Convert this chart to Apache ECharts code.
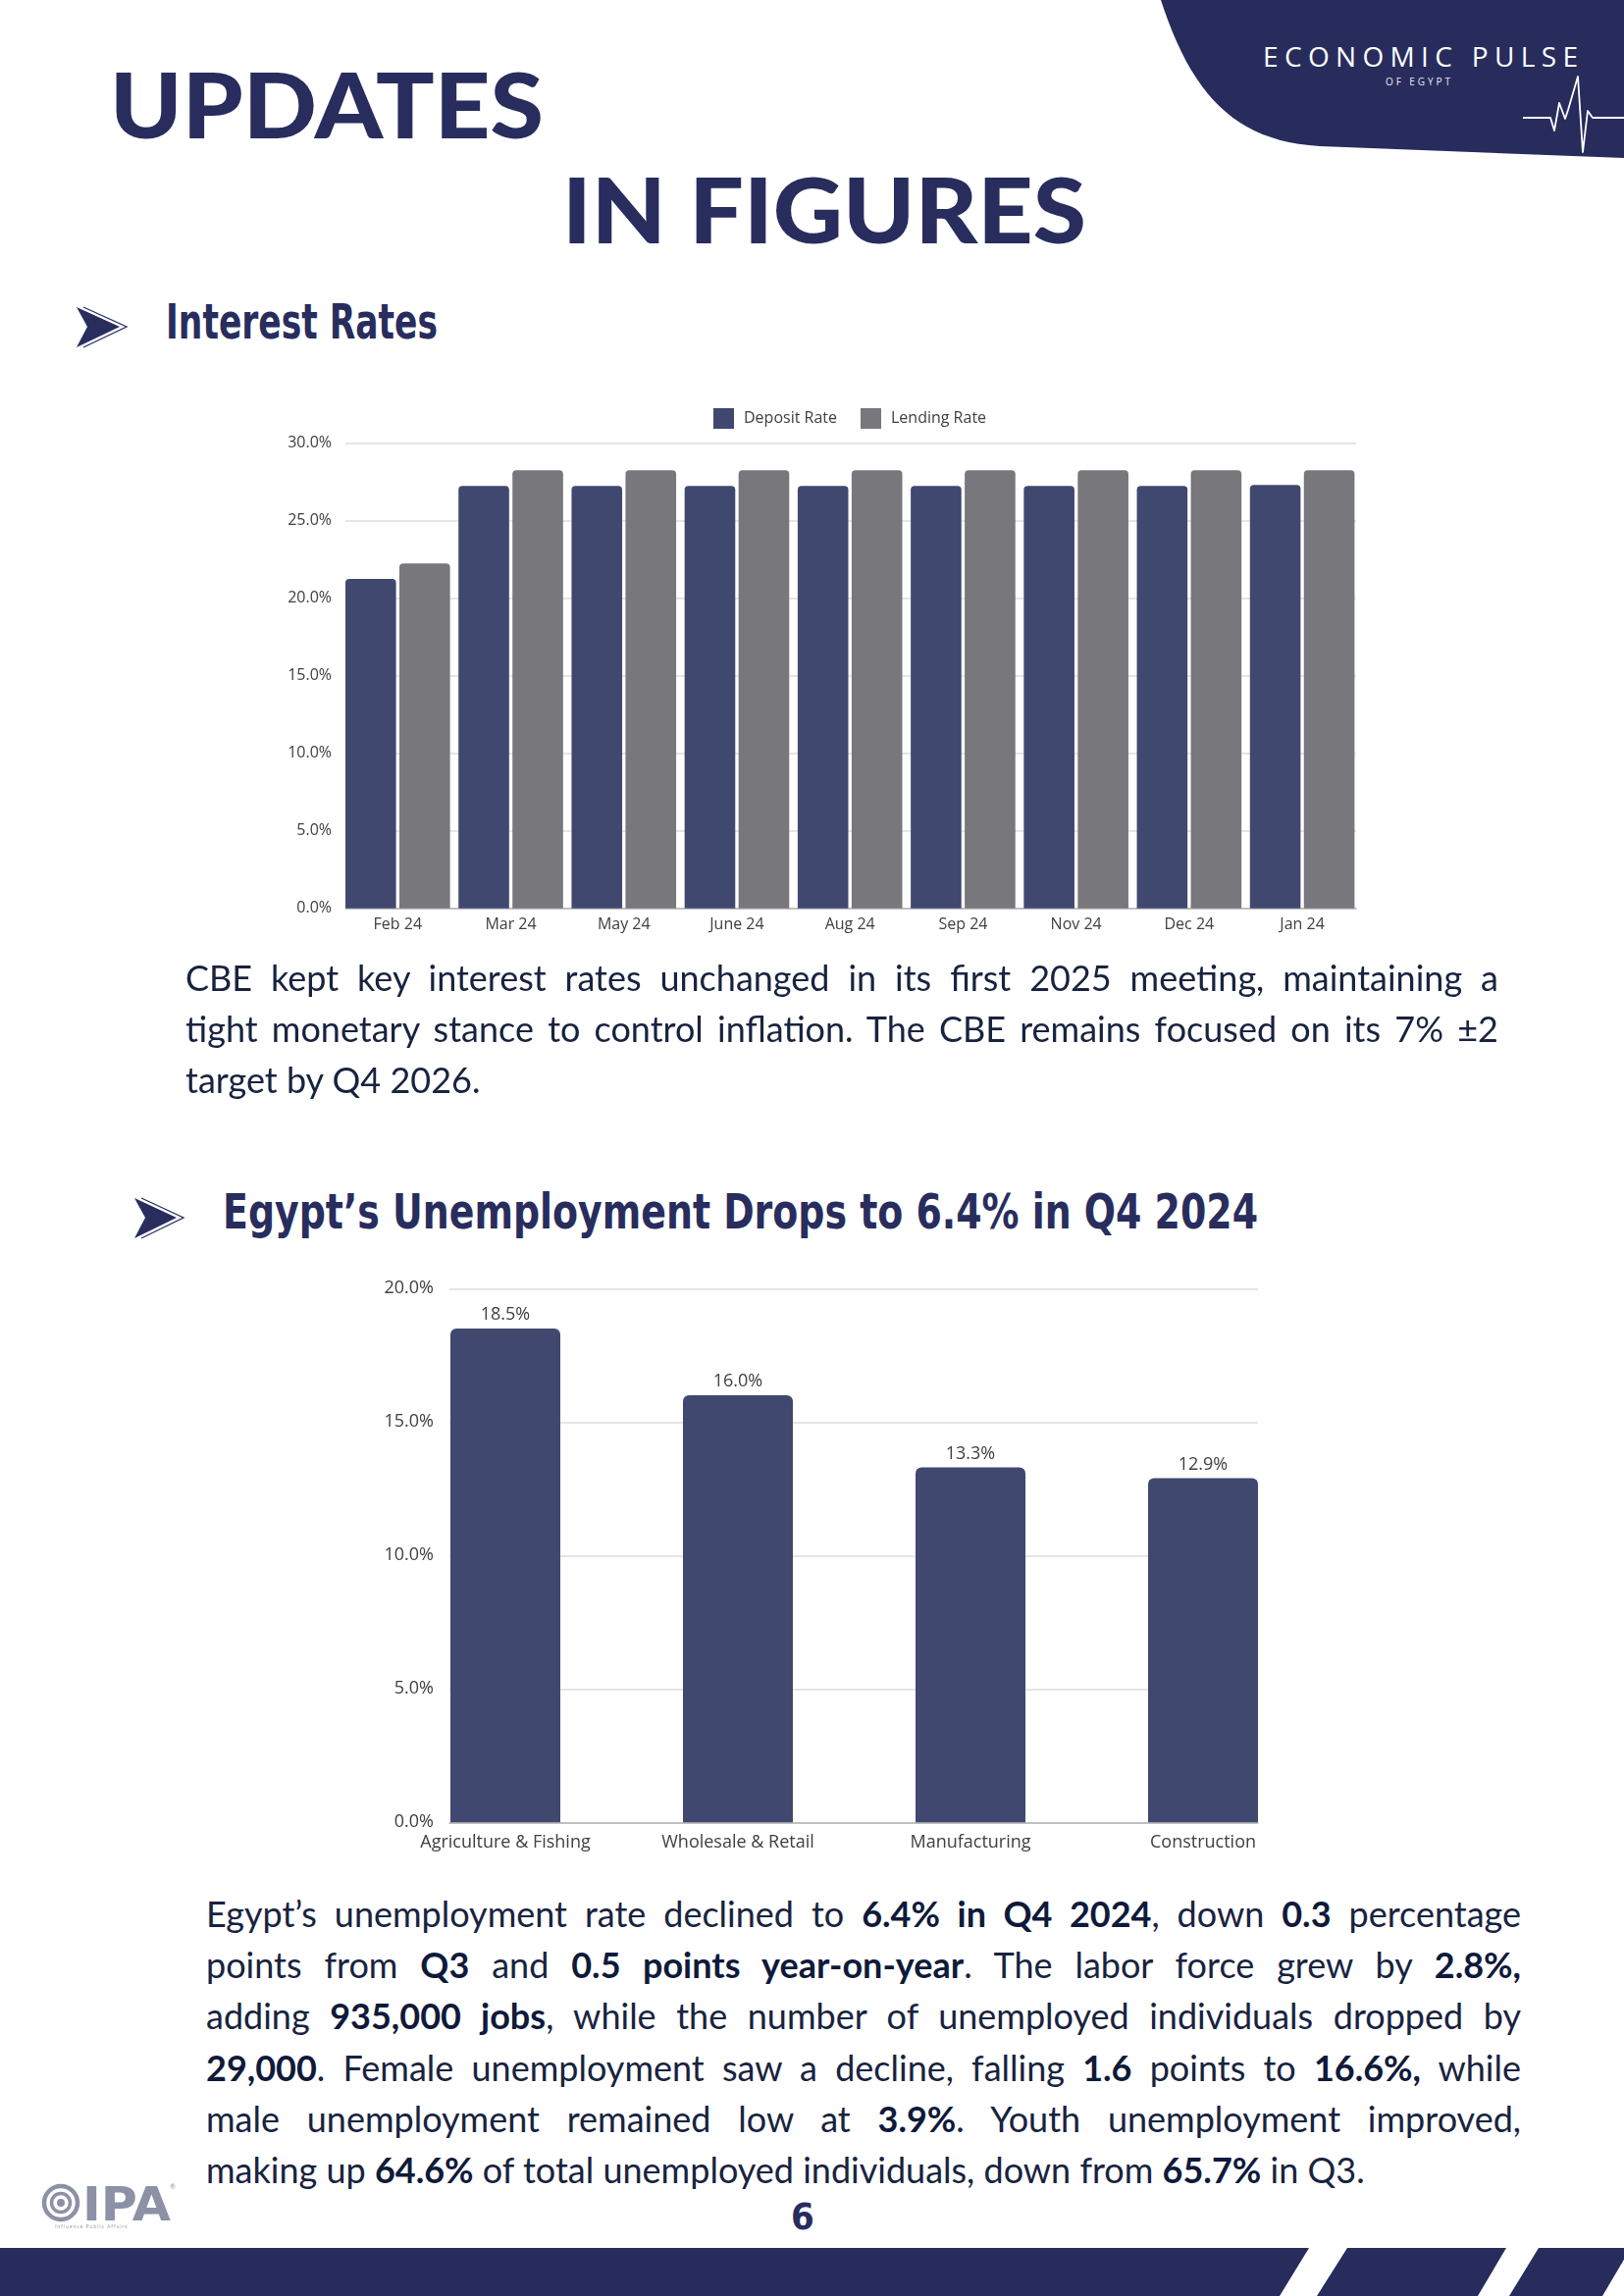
<!DOCTYPE html>
<html><head><meta charset="utf-8">
<script src="https://cdn.jsdelivr.net/npm/echarts@6/dist/echarts.min.js"></script>
<style>
html,body{margin:0;padding:0;background:#fff;}
#page{position:relative;width:1655px;height:2340px;overflow:hidden;background:#fff;font-family:Lato,'Open Sans',sans-serif;}
.abs{position:absolute;white-space:nowrap;}
.fitx{transform-origin:0 0;}
.big{font-family:Lato,sans-serif;font-weight:900;color:#282d5e;font-size:92px;line-height:1;}
.h2{font-family:'Liberation Sans Narrow','DejaVu Sans Condensed',sans-serif;font-weight:bold;color:#282d5e;line-height:1;}
.para{position:absolute;color:#18233f;font-family:Lato,sans-serif;font-size:36px;}
.para .ln{white-space:nowrap;text-align:justify;text-align-last:justify;}
.para .ln.last{text-align-last:left;}
.para .ln.measure{text-align-last:left;}
.para b{font-weight:700;color:#0f1a3a;}
.chart{position:absolute;left:0;width:1655px;}
</style>
</head>
<body>
<div id="page">
  <svg class="abs" style="left:0;top:0" width="1655" height="2340" viewBox="0 0 1655 2340">
    <!-- top-right banner -->
    <path d="M1183,0 C1213,92 1255,144 1345,149 L1655,161 L1655,0 Z" fill="#272c5c"/>
    <polyline points="1552,120 1580,120 1584,133 1589,105 1595,121 1598,112 1608,78 1613,155 1618,113 1623,120 1655,120" fill="none" stroke="#ffffff" stroke-width="1.8" stroke-linejoin="round"/>
    <!-- arrow icons -->
    <polygon points="78,313 122,333 78,354 89,333" fill="#282d5e"/>
    <polyline points="85,313 129,333 85,354" fill="none" stroke="#282d5e" stroke-width="1.3"/>
    <polygon points="137,1221 180,1241 137,1262 148,1241" fill="#282d5e"/>
    <polyline points="144,1221 187,1241 144,1262" fill="none" stroke="#282d5e" stroke-width="1.3"/>
    <!-- IPA logo icon -->
    <circle cx="62" cy="2245" r="17" fill="none" stroke="#8d91a6" stroke-width="4.5"/>
    <circle cx="62" cy="2245" r="9.5" fill="none" stroke="#8d91a6" stroke-width="3.5"/>
    <circle cx="62" cy="2245" r="4" fill="#8d91a6"/>
    <!-- footer -->
    <polygon points="0,2291 1334,2291 1304,2340 0,2340" fill="#272c5c"/>
    <polygon points="1373,2291 1535,2291 1506,2340 1342,2340" fill="#272c5c"/>
    <polygon points="1568,2291 1662,2291 1633,2340 1538,2340" fill="#272c5c"/>
  </svg>

  <div class="abs" data-w="321" data-mode="ls" style="left:1287px;top:43px;font-family:'Open Sans',sans-serif;font-weight:400;font-size:28px;line-height:1;color:#fff;">ECONOMIC PULSE</div>
  <div class="abs" data-w="66" data-mode="ls" style="left:1412px;top:78px;font-family:'Open Sans',sans-serif;font-size:10px;line-height:1;color:#e8e9f0;">OF EGYPT</div>

  <div class="abs big fitx" data-w="442" style="left:112px;top:60px;">UPDATES</div>
  <div class="abs big fitx" data-w="534" style="left:573px;top:167px;">IN FIGURES</div>

  <div class="abs h2 fitx" data-w="277" style="left:169px;top:303px;font-size:50px;">Interest Rates</div>
  <div class="abs h2 fitx" data-w="1055" style="left:227px;top:1211px;font-size:49px;">Egypt’s Unemployment Drops to 6.4% in Q4 2024</div>

  <div id="chart1" class="chart" style="top:380px;height:600px;"></div>

  <div class="para" id="p1" style="left:189px;top:970px;width:1338px;line-height:52.2px;">
    <div class="ln"><span>CBE kept key interest rates unchanged in its first 2025 meeting, maintaining a</span></div>
    <div class="ln"><span>tight monetary stance to control inflation. The CBE remains focused on its 7% ±2</span></div>
    <div class="ln last"><span>target by Q4 2026.</span></div>
  </div>

  <div id="chart2" class="chart" style="top:1280px;height:640px;"></div>

  <div class="para" id="p2" style="left:210px;top:1924px;width:1340px;line-height:52.2px;">
    <div class="ln"><span>Egypt’s unemployment rate declined to <b>6.4% in Q4 2024</b>, down <b>0.3</b> percentage</span></div>
    <div class="ln"><span>points from <b>Q3</b> and <b>0.5 points year-on-year</b>. The labor force grew by <b>2.8%,</b></span></div>
    <div class="ln"><span>adding <b>935,000 jobs</b>, while the number of unemployed individuals dropped by</span></div>
    <div class="ln"><span><b>29,000</b>. Female unemployment saw a decline, falling <b>1.6</b> points to <b>16.6%,</b> while</span></div>
    <div class="ln"><span>male unemployment remained low at <b>3.9%</b>. Youth unemployment improved,</span></div>
    <div class="ln last"><span>making up <b>64.6%</b> of total unemployed individuals, down from <b>65.7%</b> in Q3.</span></div>
  </div>

  <div class="abs h2" style="left:768px;top:2240px;width:100px;text-align:center;font-size:38px;">6</div>

  <div class="abs h2 fitx" data-w="90" style="left:84px;top:2222px;font-size:48px;color:#8d91a6;">IPA</div>
  <div class="abs" style="left:173px;top:2224px;font-size:7px;color:#8d91a6;">®</div>
  <div class="abs" style="left:56px;top:2266px;font-size:5px;letter-spacing:1px;color:#9a9daf;">Influence Public Affairs</div>
</div>

<script>
// ---------- data ----------
const rateMonths = ['Feb 24', 'Mar 24', 'May 24', 'June 24', 'Aug 24', 'Sep 24', 'Nov 24', 'Dec 24', 'Jan 24'];
const depositRate = [21.25, 27.25, 27.25, 27.25, 27.25, 27.25, 27.25, 27.25, 27.3];
const lendingRate = [22.25, 28.25, 28.25, 28.25, 28.25, 28.25, 28.25, 28.25, 28.25];
const rateAxisTicks = [0, 5, 10, 15, 20, 25, 30];

const sectors = ['Agriculture & Fishing', 'Wholesale & Retail', 'Manufacturing', 'Construction'];
const sectorUnemployment = [18.5, 16.0, 13.3, 12.9];
const unempAxisTicks = [0, 5, 10, 15, 20];

// ---------- charts ----------
const FONT = "'Open Sans', sans-serif";
const TXT = '#404040';
const pct = v => v.toFixed(1) + '%';

const c1 = echarts.init(document.getElementById('chart1'), null, {renderer: 'canvas'});
c1.setOption({
  animation: false,
  textStyle: {fontFamily: FONT},
  legend: {
    data: ['Deposit Rate', 'Lending Rate'],
    left: 722, top: 31, icon: 'rect', itemWidth: 21, itemHeight: 21, itemGap: 24,
    textStyle: {fontFamily: FONT, fontSize: 16, color: TXT, padding: [0, 0, 0, 5]}
  },
  grid: [
    {left: 352, width: 1030, top: 71.7, height: 474},
    {left: 347.7, width: 1037, top: 71.7, height: 474}
  ],
  xAxis: [
    {gridIndex: 0, type: 'category', data: rateMonths, axisLine: {show: true, lineStyle: {color: '#b4b4b4', width: 1.5}},
     axisTick: {show: false}, axisLabel: {show: false}},
    {gridIndex: 1, type: 'category', data: rateMonths, axisLine: {show: false}, axisTick: {show: false},
     axisLabel: {fontFamily: FONT, fontSize: 16, color: TXT, margin: 9}}
  ],
  yAxis: [
    {gridIndex: 0, type: 'value', min: rateAxisTicks[0], max: rateAxisTicks[rateAxisTicks.length - 1],
     interval: rateAxisTicks[1] - rateAxisTicks[0],
     axisLabel: {formatter: pct, fontFamily: FONT, fontSize: 16, color: TXT, margin: 14},
     axisLine: {show: false}, axisTick: {show: false},
     splitLine: {lineStyle: {color: '#dcdcdc', width: 1.5}}},
    {gridIndex: 1, type: 'value', min: rateAxisTicks[0], max: rateAxisTicks[rateAxisTicks.length - 1], show: false,
     splitLine: {show: false}}
  ],
  series: [
    {name: 'Deposit Rate', type: 'bar', xAxisIndex: 1, yAxisIndex: 1, data: depositRate,
     barWidth: 51.6, barGap: '6.6%', itemStyle: {color: '#41486f', borderRadius: [4, 4, 0, 0]}},
    {name: 'Lending Rate', type: 'bar', xAxisIndex: 1, yAxisIndex: 1, data: lendingRate,
     barWidth: 51.6, barGap: '6.6%', itemStyle: {color: '#77777c', borderRadius: [4, 4, 0, 0]}}
  ]
});

const c2 = echarts.init(document.getElementById('chart2'), null, {renderer: 'canvas'});
c2.setOption({
  animation: false,
  textStyle: {fontFamily: FONT},
  grid: [
    {left: 458, width: 824, top: 33.3, height: 544},
    {left: 396.5, width: 948, top: 33.3, height: 544}
  ],
  xAxis: [
    {gridIndex: 0, type: 'category', data: sectors, axisLine: {show: true, lineStyle: {color: '#b4b4b4', width: 1.5}},
     axisTick: {show: false}, axisLabel: {show: false}},
    {gridIndex: 1, type: 'category', data: sectors, axisLine: {show: false}, axisTick: {show: false},
     axisLabel: {fontFamily: FONT, fontSize: 18, color: TXT, margin: 12}}
  ],
  yAxis: [
    {gridIndex: 0, type: 'value', min: unempAxisTicks[0], max: unempAxisTicks[unempAxisTicks.length - 1],
     interval: unempAxisTicks[1] - unempAxisTicks[0],
     axisLabel: {formatter: pct, fontFamily: FONT, fontSize: 18, color: TXT, margin: 16},
     axisLine: {show: false}, axisTick: {show: false},
     splitLine: {lineStyle: {color: '#dcdcdc', width: 1.5}}},
    {gridIndex: 1, type: 'value', min: unempAxisTicks[0], max: unempAxisTicks[unempAxisTicks.length - 1], show: false,
     splitLine: {show: false}}
  ],
  series: [
    {type: 'bar', xAxisIndex: 1, yAxisIndex: 1, data: sectorUnemployment, barWidth: 112,
     itemStyle: {color: '#41486f', borderRadius: [6, 6, 0, 0]},
     label: {show: true, position: 'top', distance: 5, formatter: p => pct(p.value), fontFamily: FONT, fontSize: 18, color: TXT}}
  ]
});

// ---------- text fitting ----------
function fitAll() {
  document.querySelectorAll('[data-w]').forEach(el => {
    const target = +el.dataset.w;
    el.style.letterSpacing = '0px';
    el.style.transform = 'none';
    const w = el.getBoundingClientRect().width;
    if (el.dataset.mode === 'ls') {
      const n = el.textContent.length;
      el.style.letterSpacing = ((target - w) / (n - 1)) + 'px';
    } else {
      el.style.transform = 'scaleX(' + (target / w) + ')';
    }
  });
  document.querySelectorAll('.para').forEach(p => {
    const avail = p.clientWidth;
    let maxRatio = 0;
    p.querySelectorAll('.ln').forEach(ln => {
      ln.classList.add('measure');
      const w = ln.firstElementChild.getBoundingClientRect().width;
      ln.classList.remove('measure');
      if (!ln.classList.contains('last')) maxRatio = Math.max(maxRatio, w / avail);
    });
    if (maxRatio > 0.995) {
      const fs = parseFloat(getComputedStyle(p).fontSize);
      p.style.fontSize = (fs / maxRatio * 0.995) + 'px';
    }
  });
}
fitAll();
if (document.fonts && document.fonts.ready) document.fonts.ready.then(fitAll);
window.addEventListener('load', fitAll);
</script>
</body></html>
